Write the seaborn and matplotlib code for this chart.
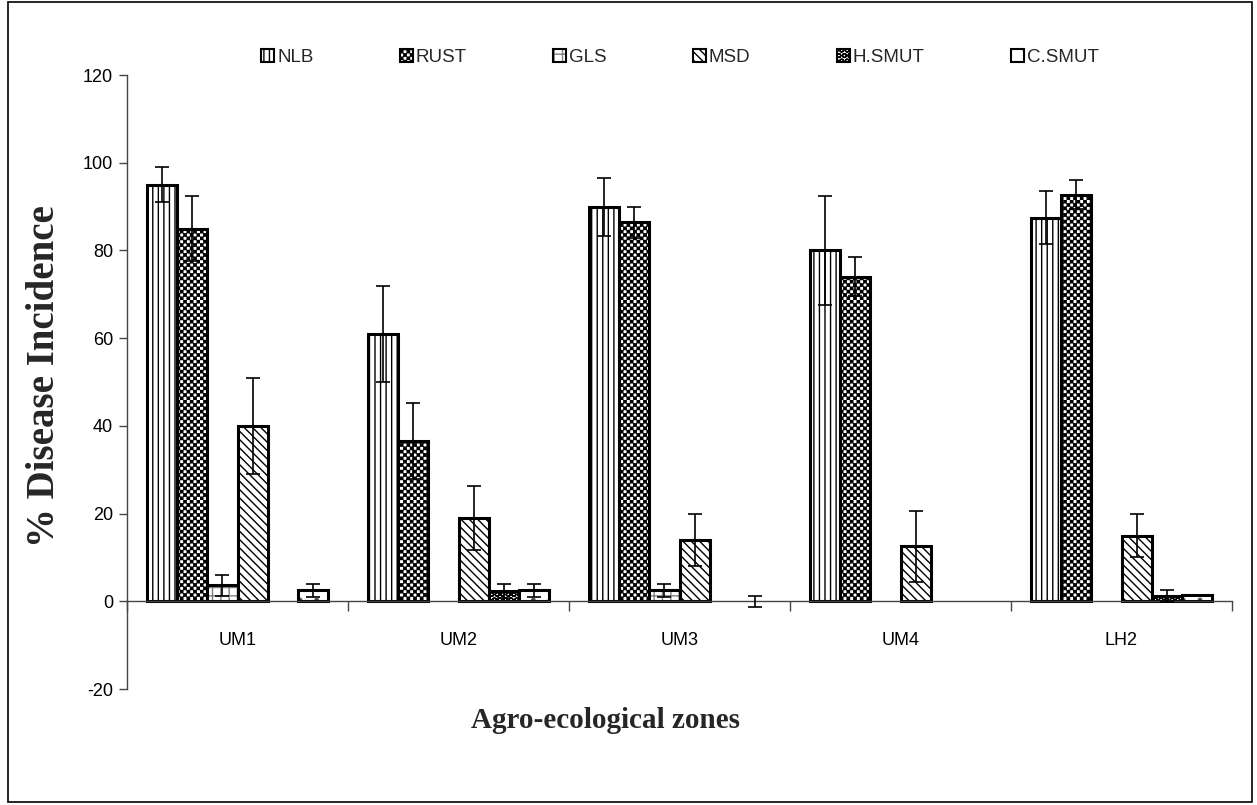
import numpy as np
import pandas as pd
import matplotlib
matplotlib.use("Agg")
import matplotlib.pyplot as plt
import matplotlib.hatch as mhatch
from matplotlib.path import Path
from matplotlib.colors import to_rgba
from matplotlib.patches import Rectangle
import seaborn as sns

# ---------------- data ----------------
zones = ["UM1", "UM2", "UM3", "UM4", "LH2"]
diseases = ["NLB", "RUST", "GLS", "MSD", "H.SMUT", "C.SMUT"]

nlb = [95.0, 61.0, 90.0, 80.0, 87.5]
nlb_err = [4.0, 11.0, 6.6, 12.4, 6.0]
rust = [85.0, 36.5, 86.4, 74.0, 92.7]
rust_err = [7.3, 8.7, 3.6, 4.4, 3.3]
gls = [3.6, 0.0, 2.5, 0.0, 0.0]
gls_err = [2.5, 0.0, 1.5, 0.0, 0.0]
msd = [40.0, 19.0, 14.0, 12.5, 15.0]
msd_err = [11.0, 7.3, 6.0, 8.0, 5.0]
hsmut = [0.0, 2.3, 0.0, 0.0, 1.2]
hsmut_err = [0.0, 1.6, 0.0, 0.0, 1.3]
csmut = [2.5, 2.5, 0.0, 0.0, 1.4]
csmut_err = [1.5, 1.5, 1.3, 0.0, 0.0]

yticks = [-20, 0, 20, 40, 60, 80, 100, 120]

values = [nlb, rust, gls, msd, hsmut, csmut]
errors = [nlb_err, rust_err, gls_err, msd_err, hsmut_err, csmut_err]


# ---------------- custom checkerboard hatch (replaces 'o') ----------------
class CheckerHatch(mhatch.HatchPatternBase):
    def __init__(self, hatch, density):
        self.n = hatch.count('o') * 10
        if self.n:
            self.num_vertices = (self.n * self.n // 2) * 5
        else:
            self.num_vertices = 0

    def set_vertices_and_codes(self, vertices, codes):
        n = self.n
        s = 1.0 / n
        ins = 0.005
        k = 0
        for i in range(n):
            for j in range(n):
                if (i + j) % 2 == 0:
                    x0 = j * s + ins
                    y0 = i * s + ins
                    x1 = (j + 1) * s - ins
                    y1 = (i + 1) * s - ins
                    vertices[k:k + 5] = [[x0, y0], [x1, y0], [x1, y1], [x0, y1], [x0, y0]]
                    codes[k:k + 5] = [Path.MOVETO, Path.LINETO, Path.LINETO,
                                      Path.LINETO, Path.CLOSEPOLY]
                    k += 5


mhatch._hatch_types = [CheckerHatch if t is mhatch.SmallCircles else t
                       for t in mhatch._hatch_types]

# ---------------- long-form table ----------------
rows = []
for d, vals in zip(diseases, values):
    for z, v in zip(zones, vals):
        rows.append({"zone": z, "disease": d, "value": v})
df = pd.DataFrame(rows)

sns.set_theme(style="white")
plt.rcParams["font.family"] = ["Liberation Sans", "DejaVu Sans"]
plt.rcParams["hatch.linewidth"] = 1.0

fig = plt.figure(figsize=(12.57, 8.05), dpi=100)
ax = fig.add_axes([127 / 1257, 1 - 689 / 805, (1232 - 127) / 1257, (689 - 75) / 805])

sns.barplot(data=df, x="zone", y="value", hue="disease", order=zones,
            hue_order=diseases, palette=["white"] * 6, errorbar=None,
            width=0.815, edgecolor="black", linewidth=2.2, saturation=1,
            legend=False, ax=ax)

bar_conts = list(ax.containers)

hatches = ["|||", "ooo", "++", "\\\\\\\\", "OOO", "."]
hatch_colors = ["black", "black", "#808080", "black", "black", "#555555"]

for cont, h, hc in zip(bar_conts, hatches, hatch_colors):
    for bar in cont.patches:
        bar.set_hatch(h)
        bar.set_edgecolor("black")
        bar._hatch_color = to_rgba(hc)
        if bar.get_height() == 0:
            bar.set_linewidth(0)

# error bars
for cont, errs in zip(bar_conts, errors):
    xs, ys, es = [], [], []
    for bar, e in zip(cont.patches, errs):
        if e > 0:
            xs.append(bar.get_x() + bar.get_width() / 2)
            ys.append(bar.get_height())
            es.append(e)
    ax.errorbar(xs, ys, yerr=es, fmt="none", ecolor="black",
                elinewidth=1.2, capsize=5, capthick=1.2, zorder=5)

# axes styling
ax.set_ylim(-20, 120)
ax.set_xlim(-0.5, 4.5)
ax.set_yticks(yticks)
ax.set_yticklabels([str(t) for t in yticks])
for s in ["top", "right"]:
    ax.spines[s].set_visible(False)
ax.spines["bottom"].set_position(("data", 0))
for s in ["left", "bottom"]:
    ax.spines[s].set_color("#444444")
    ax.spines[s].set_linewidth(1.0)

ax.set_xticks(np.arange(-0.5, 5.0, 1.0), minor=True)
ax.tick_params(axis="x", which="major", bottom=True, length=0, pad=22,
               labelsize=13, colors="black")
ax.tick_params(axis="x", which="minor", bottom=True, length=7, width=1.0,
               direction="out", color="#444444")
ax.tick_params(axis="y", which="major", left=True, length=6, width=1.0,
               direction="out", color="#444444", labelsize=13,
               labelcolor="black", pad=4)
ax.grid(False)

ax.set_xlabel("Agro-ecological zones", fontsize=21, fontweight="bold",
              family=["Liberation Serif", "DejaVu Serif"])
ax.xaxis.set_label_coords(0.433, -0.0505)
ax.xaxis.label.set_va("center")
ax.set_ylabel("% Disease Incidence", fontsize=28, fontweight="bold",
              family=["Liberation Serif", "DejaVu Serif"])
ax.yaxis.set_label_coords(-0.075, 0.51)
ax.yaxis.label.set_va("center")

# legend
handles = [cont.patches[0] for cont in bar_conts]
leg = fig.legend(handles=handles, labels=diseases, loc="center",
                 bbox_to_anchor=(0.541, 0.929), ncol=6, frameon=False,
                 fontsize=13.5, handlelength=0.7, handleheight=0.7,
                 handletextpad=0.15, columnspacing=4.6)
for p in leg.get_patches():
    p.set_linewidth(1.5)

# outer frame of the chart area
fig.add_artist(Rectangle((0.006, 0.004), 0.990, 0.993, transform=fig.transFigure,
                         fill=False, edgecolor="black", linewidth=1.2))

fig.savefig("out.png", dpi=100, facecolor="white")
